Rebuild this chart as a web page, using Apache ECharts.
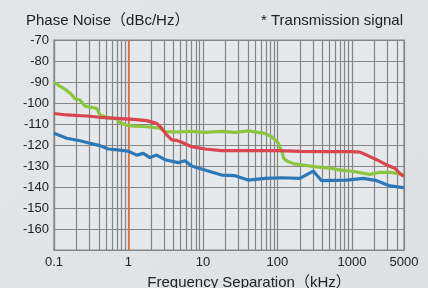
<!DOCTYPE html>
<html>
<head>
<meta charset="utf-8">
<script src="https://cdn.jsdelivr.net/npm/echarts@6/dist/echarts.min.js"></script>
<style>
  html, body { margin: 0; padding: 0; }
  #chart { width: 428px; height: 288px; }
</style>
</head>
<body>
<div id="chart"></div>
<script>
// frequency in kHz, phase noise in dBc/Hz
var greenSeries = [
  [0.1, -90], [0.12, -92], [0.148, -94], [0.173, -96], [0.191, -98], [0.223, -98.6],
  [0.261, -101.5], [0.304, -102], [0.374, -102.5], [0.414, -105.7], [0.535, -107],
  [0.695, -107.5], [0.769, -109.5], [0.946, -110.5], [1.16, -111], [1.75, -111.3],
  [2.65, -112], [3.09, -113.6], [4.44, -113.8], [7.05, -113.5], [10.6, -114],
  [17.8, -113.5], [26.9, -114], [40.6, -113.3], [55.2, -114], [67.9, -114.5],
  [83.6, -116], [102, -119], [114, -123], [122, -126.5], [133, -127.5], [166, -129],
  [200, -129.3], [309, -130.3], [507, -131], [705, -132], [1000, -132.5],
  [1450, -133.5], [1745, -134], [2380, -133], [3240, -133], [4650, -134], [5000, -134.6]
];
var redSeries = [
  [0.1, -105], [0.148, -105.7], [0.275, -106.2], [0.414, -106.8], [0.695, -107.3],
  [1.16, -107.8], [1.75, -108.4], [2.39, -109.7], [2.79, -112], [3.26, -115.2],
  [3.8, -117.6], [4.44, -117.8], [5.17, -118.7], [7.05, -120.8], [10.6, -121.9],
  [17.8, -122.7], [29.8, -122.7], [55.2, -122.7], [102, -122.7], [200, -123],
  [500, -123.2], [1000, -123.2], [1280, -123.4], [1575, -124.8], [2150, -127],
  [2920, -129.5], [3780, -131.1], [4650, -134.3], [5000, -134.8]
];
var blueSeries = [
  [0.1, -114.4], [0.148, -116.8], [0.223, -118], [0.304, -119.2], [0.414, -120.3],
  [0.535, -121.9], [0.769, -122.4], [0.99, -122.9], [1.29, -124.8], [1.58, -124],
  [1.94, -126], [2.39, -124.8], [3.09, -127], [4.66, -128.4], [5.73, -127.5],
  [7.05, -130], [10.6, -131.9], [17.8, -134.3], [26.9, -134.6], [40.6, -136.7],
  [67.9, -135.9], [114, -135.6], [200, -135.9], [302, -132.4], [392, -137],
  [849, -136.7], [1420, -135.9], [2150, -137], [3240, -139.5], [4650, -140.2],
  [5000, -140.3]
];
var minorFreqs = [
  0.2, 0.3, 0.4, 0.5, 0.6, 0.7, 0.8, 0.9,
  2, 3, 4, 5, 6, 7, 8, 9,
  20, 30, 40, 50, 60, 70, 80, 90,
  200, 300, 400, 500, 600, 700, 800, 900,
  2000, 3000, 4000
];
var markedFreq = 1;

var font = '"Liberation Sans", Arial, "Noto Sans CJK JP", sans-serif';
var gridColor = '#858585';

var myChart = echarts.init(document.getElementById('chart'));

var option = {
  backgroundColor: {
    type: 'linear', x: 0, y: 0, x2: 1, y2: 1,
    colorStops: [{ offset: 0, color: '#e3e6e9' }, { offset: 1, color: '#dde1e4' }]
  },
  animation: false,
  title: [
    {
      text: 'Phase Noise（dBc/Hz）', left: 21, top: 8,
      textStyle: { fontFamily: font, fontSize: 15, fontWeight: 'normal', color: '#222' }
    },
    {
      text: '* Transmission signal', right: 20, top: 8,
      textStyle: { fontFamily: font, fontSize: 15, fontWeight: 'normal', color: '#222' }
    }
  ],
  grid: {
    left: 54, right: 24, top: 40, bottom: 38, outerBoundsMode: 'none',
    show: true, backgroundColor: '#e6e9ec', borderColor: gridColor, borderWidth: 1.2
  },
  xAxis: {
    type: 'log', logBase: 10, min: 0.1, max: 5000,
    name: 'Frequency Separation（kHz）', nameLocation: 'middle', nameGap: 25,
    nameTextStyle: { fontFamily: font, fontSize: 15, color: '#222', padding: [0, 0, 0, 40] },
    axisLine: { show: true, lineStyle: { color: gridColor, width: 1.2 } },
    axisTick: { show: false },
    axisLabel: {
      fontFamily: font, fontSize: 13, color: '#222', margin: 6,
      formatter: function (v) { return String(+(+v).toPrecision(6)); }
    },
    splitLine: { show: true, lineStyle: { color: gridColor, width: 1.2 } }
  },
  yAxis: {
    type: 'value', min: -170, max: -70, interval: 10,
    axisLine: { show: true, lineStyle: { color: gridColor, width: 1.2 } },
    axisTick: { show: false },
    axisLabel: {
      fontFamily: font, fontSize: 13, color: '#222', margin: 5,
      formatter: function (v) { return v === -170 ? '' : String(v); }
    },
    splitLine: { show: true, lineStyle: { color: gridColor, width: 1.2 } }
  },
  series: [
    {
      type: 'line', data: [], silent: true, z: 1,
      markLine: {
        silent: true, symbol: 'none', animation: false, z: 1,
        label: { show: false },
        lineStyle: { color: gridColor, width: 1.2, type: 'solid' },
        data: minorFreqs.map(function (f) { return { xAxis: f }; }).concat([
          { xAxis: markedFreq, lineStyle: { color: '#f26a2c', width: 1.5 } }
        ])
      }
    },
    {
      type: 'line', data: blueSeries, showSymbol: false, z: 3,
      lineStyle: { color: '#2c78b7', width: 3.2 }
    },
    {
      type: 'line', data: greenSeries, showSymbol: false, z: 3,
      lineStyle: { color: '#8cc63e', width: 3.2 }
    },
    {
      type: 'line', data: redSeries, showSymbol: false, z: 4,
      lineStyle: { color: '#d9464f', width: 3.2 }
    }
  ]
};
myChart.setOption(option);

window.addEventListener('resize', function () {
  myChart.resize();
});
</script>
</body>
</html>
